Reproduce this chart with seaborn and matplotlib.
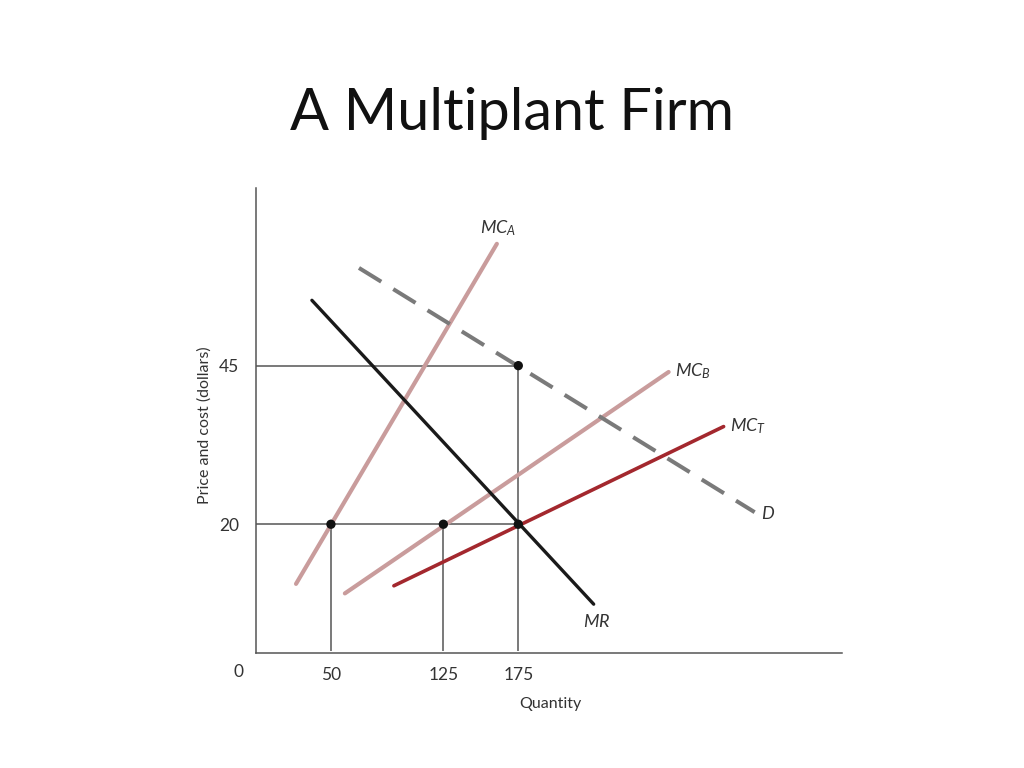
import numpy as np
import pandas as pd
import seaborn as sns
import matplotlib.pyplot as plt

sns.set_theme(style='white')
plt.rcParams['font.family'] = ['Lato', 'DejaVu Sans']
plt.rcParams['mathtext.fontset'] = 'custom'
plt.rcParams['mathtext.it'] = 'Lato:italic'
plt.rcParams['mathtext.rm'] = 'Lato'

# 곡선 끝점 (수량, 가격)
mca_q = [26.7, 160.7]
mca_p = [10.6, 64.2]
mcb_q = [59.3, 275.3]
mcb_p = [9.1, 44.0]
mct_q = [92.0, 312.0]
mct_p = [10.3, 35.4]
mr_q = [37.3, 225.3]
mr_p = [55.3, 7.4]
d_q = [68.7, 332.7]
d_p = [60.4, 21.9]

# 균형점
point_q = [50, 125, 175, 175]
point_p = [20, 20, 20, 45]

# 눈금
x_ticks = [50, 125, 175]
y_ticks = [20, 45]

fig = plt.figure(figsize=(10.24, 7.68), dpi=100)
ax = fig.add_axes([0.25, 0.1497, 0.5723, 0.6055])

# 보조선
ax.hlines([45, 20], 0, 175, color='#555555', lw=1.1, zorder=1)
ax.vlines([50, 125], 0, 20, color='#555555', lw=1.1, zorder=1)
ax.vlines([175], 0, 45, color='#555555', lw=1.1, zorder=1)

sns.lineplot(x=mca_q, y=mca_p, color='#c99c9c', lw=3.0, ax=ax)
sns.lineplot(x=mcb_q, y=mcb_p, color='#c99c9c', lw=3.0, ax=ax)
sns.lineplot(x=mct_q, y=mct_p, color='#a3282e', lw=2.6, ax=ax)
sns.lineplot(x=mr_q, y=mr_p, color='#1a1a1a', lw=2.4, ax=ax)
sns.lineplot(x=d_q, y=d_p, color='#7a7a7a', lw=2.9, ax=ax)
ax.lines[-1].set_dashes([6.5, 3.5])

sns.scatterplot(x=point_q, y=point_p, color='#111111', s=45, ax=ax, zorder=5, edgecolor='none')

# 곡선 이름
lab = dict(fontsize=13, color='#333333', va='center')
ax.text(mca_q[1] - 11, mca_p[1] + 2.4, '$MC_A$', **lab)
ax.text(mcb_q[1] + 4.5, mcb_p[1] + 0.1, '$MC_B$', **lab)
ax.text(mct_q[1] + 4.5, mct_p[1] + 0.1, '$MC_T$', **lab)
ax.text(d_q[1] + 4, d_p[1] - 0.2, '$D$', **lab)
ax.text(mr_q[1] - 7, mr_p[1] - 2.8, '$MR$', **lab)

ax.set_xlim(0, 391)
ax.set_ylim(-0.3, 73)
ax.set_xticks(x_ticks)
ax.set_yticks(y_ticks)
ax.tick_params(axis='both', length=0, labelsize=12.5, labelcolor='#333333')
ax.tick_params(axis='x', pad=10)
ax.tick_params(axis='y', pad=12)
ax.text(-12, -3.3, '0', fontsize=12.5, color='#333333', ha='center', va='center')

for side in ['top', 'right']:
    ax.spines[side].set_visible(False)
for side in ['left', 'bottom']:
    ax.spines[side].set_color('#555555')
    ax.spines[side].set_linewidth(1.1)

ax.set_xlabel('Quantity', fontsize=11.5, color='#333333')
ax.xaxis.set_label_coords(175 / 391 + 0.055, -0.095)
ax.set_ylabel('Price and cost (dollars)', fontsize=11.5, color='#333333')
ax.yaxis.set_label_coords(-0.075, 0.49)

fig.text(0.5, 0.852, 'A Multiplant Firm', fontsize=41.5, ha='center', va='center', color='#111111')

fig.savefig('out.png', dpi=100)
